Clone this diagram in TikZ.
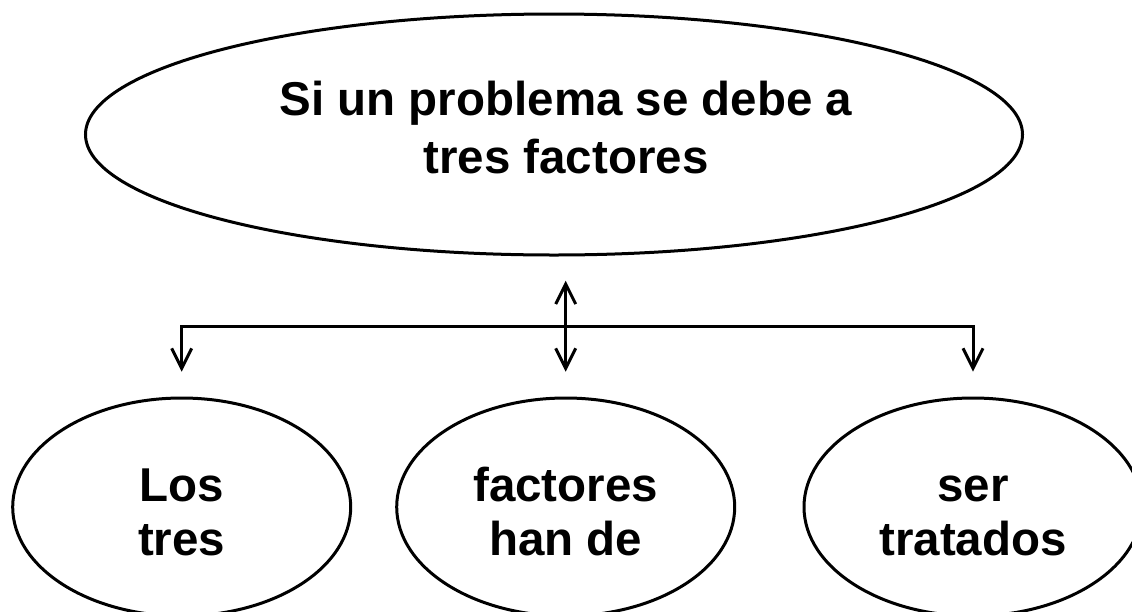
\documentclass[tikz,border=0pt]{standalone}
\usepackage{fontspec}
\setmainfont{Liberation Sans}
\usetikzlibrary{arrows.meta,shapes.geometric}
\tikzset{
  ell/.style={draw=black, ellipse, line width=3pt, inner sep=0pt, outer sep=0pt},
  topell/.style={ell, minimum width=937pt, minimum height=241pt},
  botell/.style={ell, minimum width=338pt, minimum height=218pt},
  txt/.style={anchor=base, inner sep=0pt, font=\fontsize{47.5}{54}\selectfont\bfseries},
  conn/.style={draw=black, line width=3pt},
  barb/.tip={Straight Barb[length=20pt,width=20pt]}
}
\begin{document}
\begin{tikzpicture}[x=1pt,y=-1pt]
\useasboundingbox (0,0) rectangle (1132,611);
\clip (0,0) rectangle (1132,611);
% ellipses
\node[topell] (top) at (554,134.5) {};
\node[botell] (left) at (181.7,507) {};
\node[botell] (mid) at (565.7,507) {};
\node[botell] (right) at (973,507) {};
% texts
\node[txt] (t1) at (566,115.5) {Si un problema se debe a};
\node[txt] (t2) at (566,173) {tres factores};
\node[txt] (l1) at (181.7,501) {Los};
\node[txt] (l2) at (181.7,555) {tres};
\node[txt] (m1) at (565.7,501) {factores};
\node[txt] (m2) at (565.7,555) {han de};
\node[txt] (r1) at (973,501) {ser};
\node[txt] (r2) at (973,555) {tratados};
% connectors
\coordinate (bar) at (565.7,326.7);
\draw[conn, barb-barb, shorten <=26.3pt, shorten >=26.3pt] (left.north) |- (bar) -| (right.north);
\draw[conn, barb-barb, shorten <=25.7pt, shorten >=26.3pt] (mid.north |- top.south) -- (mid.north);
\end{tikzpicture}
\end{document}
